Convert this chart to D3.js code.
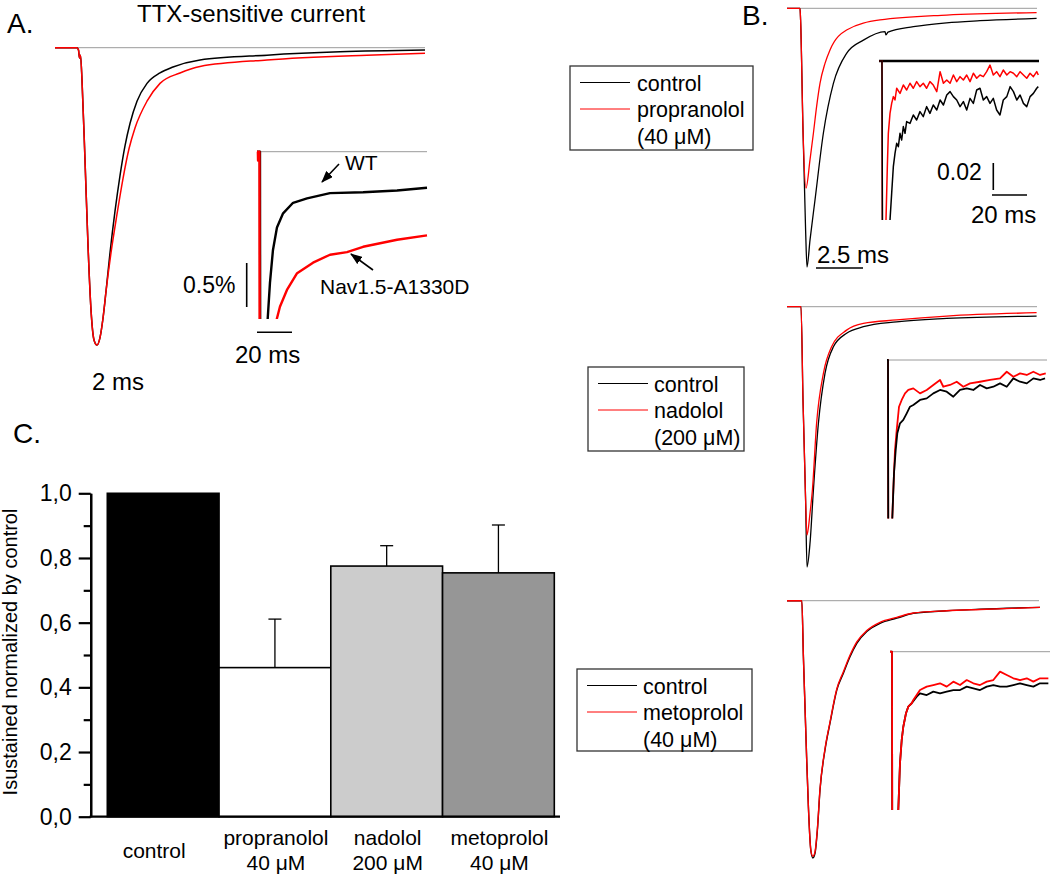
<!DOCTYPE html>
<html>
<head>
<meta charset="utf-8">
<script src="https://cdn.jsdelivr.net/npm/d3@7"></script>
<style>
  body { margin: 0; background: #fff; }
  svg { display: block; font-family: "Liberation Sans", Arial, Helvetica, sans-serif; }
</style>
</head>
<body>
<svg id="fig" width="1050" height="876"></svg>
<script>
// ---------- Panel A: TTX-sensitive current (t in ms, I in % of peak) ----------
const aWT = [[0,0],[2.2,0],[2.35,-0.8],[2.45,-3.5],[2.55,-2.5],[2.7,-10.9],[3.0,-37.8],[3.3,-66.4],
  [3.6,-88.2],[3.9,-98.3],[4.2,-100],[4.5,-97.5],[4.8,-91],[5.1,-82],[5.5,-69],[6.0,-55],[6.5,-43],
  [7.0,-33],[7.5,-25.5],[8.2,-18],[9.2,-12],[10.5,-8.5],[11.8,-6.5],[14.5,-4.1],[21.2,-2.5],
  [28.5,-1.4],[37,-0.8]];
const aA1330D = [[0,0],[2.2,0],[2.35,-0.8],[2.45,-3.5],[2.55,-2.5],[2.7,-10.9],[3.0,-37.8],[3.3,-66.4],
  [3.6,-88.2],[3.9,-98.3],[4.2,-100],[4.5,-97.5],[4.8,-91],[5.1,-82],[5.6,-69],[6.2,-56],[6.8,-44],
  [7.4,-34],[8.0,-27],[9.2,-18],[10.5,-12],[12.5,-8.5],[14.5,-6.3],[21.2,-4.1],[31.2,-2.5],[37,-1.9]];
// inset, late current
const aInsetWT = [[0,0],[1.7,0],[2.0,-6],[5.7,-6],[6.1,-1.90],[7.4,-1.49],[9.1,-1.12],[11.4,-0.86],
  [14.9,-0.70],[20.6,-0.58],[28.6,-0.53],[41.7,-0.47],[60.6,-0.46],[80,-0.44],[97.1,-0.41]];
const aInsetA1330D = [[0,0],[0.5,0],[0.6,-0.1],[0.8,-0.05],[1.4,0],[1.7,-6],[10.9,-6],[11.3,-1.90],
  [13.1,-1.76],[17.1,-1.57],[22.9,-1.38],[32,-1.26],[41.7,-1.17],[51.4,-1.14],[60.6,-1.08],
  [70.3,-1.04],[80,-1.0],[97.1,-0.95]];

// ---------- Panel B: control vs drug (t in ms, I in % of control peak) ----------
const bPropCtrl = [[0,0],[0.65,0],[0.68,-4.5],[0.8,-47],[0.93,-85.7],[1.0,-100],[1.15,-89.6],[1.4,-74.1],
  [1.82,-48.2],[2.32,-29.0],[2.98,-17.4],[3.82,-12.3],[4.9,-9.0],[4.95,-10.3],[5.05,-9.2],[6.32,-7.1],
  [7.98,-5.6],[9.65,-4.8],[12.48,-3.9]];
const bProp = [[0,0],[0.65,0],[0.68,-4.5],[0.8,-47],[0.95,-69.5],[1.15,-58.6],[1.32,-48.3],[1.48,-38],
  [1.65,-29],[1.9,-21.3],[2.15,-16.1],[2.98,-8.4],[4.65,-4.5],[7.98,-2.6],[12.48,-1.7]];
const bPropInsetCtrl = [[0,0],[1.7,0],[2.0,-15],[6.0,-15],[6.29,-11.78],[7.24,-9.8],[8.19,-7.83],
  [9.14,-6.84],[10.1,-6.10],[11.05,-6.35],[12.0,-5.36],[12.95,-5.85],[13.9,-4.86],[14.86,-5.36],
  [15.8,-4.49],[17.7,-4.62],[19.6,-4.0],[21.5,-4.37],[23.4,-3.75],[25.3,-4.12],[27.2,-3.38],
  [29.1,-3.88],[31.0,-3.26],[33.0,-3.63],[34.9,-2.89],[36.8,-3.26],[38.7,-2.52],[40.6,-2.27],
  [42.5,-2.64],[44.4,-2.89],[46.3,-3.38],[48.2,-3.01],[50.1,-3.63],[52.0,-2.77],[53.9,-3.14],
  [55.8,-2.15],[57.7,-2.02],[59.6,-2.89],[61.5,-2.64],[63.4,-3.14],[65.3,-2.77],[67.2,-3.63],
  [69.1,-4.0],[71.0,-2.89],[73.0,-2.64],[74.9,-1.90],[76.8,-2.27],[78.7,-2.89],[80.6,-2.52],
  [82.5,-3.14],[84.4,-3.38],[86.3,-2.64],[88.2,-2.40],[90.1,-2.02],[91.0,-1.90]];
const bPropInset = [[0,0],[1.7,0],[2.0,-15],[3.7,-15],[4.0,-11.78],[4.76,-7.83],[5.33,-5.36],
  [6.29,-3.88],[7.24,-3.14],[8.19,-2.64],[9.14,-2.89],[10.1,-2.02],[12.0,-2.4],[13.9,-1.78],
  [15.8,-2.15],[17.7,-1.65],[19.6,-2.02],[21.5,-1.53],[23.4,-1.90],[25.3,-1.65],[27.2,-2.02],
  [29.1,-1.53],[31.0,-1.78],[33.0,-2.27],[34.9,-0.79],[36.8,-1.65],[38.7,-1.41],[40.6,-1.65],
  [42.5,-1.04],[44.4,-1.53],[46.3,-1.16],[48.2,-1.41],[50.1,-1.04],[52.0,-1.53],[53.9,-0.91],
  [55.8,-1.28],[57.7,-1.04],[59.6,-1.16],[61.5,-0.79],[63.4,-0.30],[65.3,-1.04],[67.2,-0.79],
  [69.1,-1.16],[71.0,-0.67],[73.0,-1.04],[74.9,-0.79],[76.8,-0.91],[78.7,-1.16],[80.6,-0.79],
  [82.5,-1.04],[84.4,-1.28],[86.3,-0.91],[88.2,-1.16],[90.1,-0.79],[91.0,-1.04]];

const bNadCtrl = [[0,0],[0.7,0],[0.8,-35.8],[0.93,-74.3],[1.0,-100],[1.15,-90.9],[1.32,-70.4],
  [1.57,-44.8],[1.9,-25.6],[2.32,-15.4],[2.98,-10.2],[3.82,-7.7],[5.48,-5.8],[7.98,-4.5],[12.48,-3.6]];
const bNad = [[0,0],[0.7,0],[0.8,-35.8],[0.93,-74.3],[1.0,-87.7],[1.15,-79.4],[1.27,-70.4],
  [1.48,-44.8],[1.82,-25.6],[2.23,-15.4],[2.98,-9.0],[3.82,-6.4],[5.48,-5.1],[7.98,-3.6],[12.48,-2.3]];
const bNadInsetCtrl = [[0,0],[0.57,0],[0.75,-15],[2.9,-15],[3.03,-11.73],[4.0,-8.39],[4.97,-6.67],
  [5.89,-5.43],[7.43,-4.69],[9.31,-4.44],[11.26,-3.95],[13.14,-3.46],[15.03,-3.33],[18.86,-2.96],
  [22.69,-2.84],[26.46,-2.47],[30.29,-2.22],[34.11,-2.35],[37.89,-2.72],[41.71,-2.22],[45.54,-2.10],
  [49.31,-2.22],[53.14,-1.85],[56.97,-2.10],[60.74,-1.98],[64.57,-1.73],[68.4,-1.98],[72.17,-1.36],
  [76.0,-1.61],[79.83,-1.73],[83.6,-1.36],[87.43,-1.48],[90.29,-1.36]];
const bNadInset = [[0,0],[0.57,0],[0.75,-15],[2.9,-15],[3.0,-11.73],[3.6,-9.63],[4.57,-6.67],
  [5.54,-5.19],[6.86,-3.46],[8.4,-2.96],[10.29,-2.47],[12.17,-2.22],[15.03,-2.10],[18.86,-2.47],
  [22.69,-2.22],[26.46,-1.85],[30.29,-1.48],[32.17,-1.98],[36.0,-1.85],[39.83,-1.61],[43.6,-1.98],
  [47.43,-1.73],[53.14,-1.61],[58.86,-1.48],[64.57,-1.36],[68.4,-0.87],[72.17,-1.24],[76.0,-0.99],
  [79.83,-1.11],[83.6,-0.87],[87.43,-1.11],[90.69,-0.99]];

const bMetCtrl = [[0,0],[0.74,0],[0.82,-21.8],[0.9,-41.2],[0.98,-60.6],[1.07,-80.1],[1.19,-96.9],
  [1.29,-100],[1.4,-98.2],[1.52,-89.1],[1.65,-73.6],[1.9,-58.0],[2.15,-47.6],[2.49,-34.7],[2.82,-28.2],
  [3.15,-21.8],[3.49,-16.6],[3.99,-12.0],[4.65,-8.8],[5.49,-6.8],[6.32,-4.9],[7.99,-3.9],[9.65,-3.3],
  [12.65,-2.6]];
const bMet = [[0,0],[0.74,0],[0.82,-21.8],[0.9,-41.2],[0.98,-60.6],[1.07,-80.1],[1.19,-96.9],
  [1.29,-99.3],[1.4,-97.6],[1.52,-88.6],[1.65,-73.2],[1.9,-57.6],[2.15,-47.2],[2.49,-34.3],[2.82,-27.6],
  [3.15,-21.2],[3.49,-16.0],[3.99,-11.6],[4.65,-8.4],[5.49,-6.5],[6.32,-4.8],[7.99,-3.9],[9.65,-3.4],
  [12.65,-2.6]];
const bMetInsetCtrl = [[0,0],[1.14,0],[1.3,-15],[4.6,-15],[4.74,-11.73],[5.71,-8.27],[6.69,-6.54],
  [7.6,-5.56],[9.14,-4.56],[10.46,-4.07],[12.4,-3.82],[15.26,-3.33],[17.14,-3.08],[20.97,-3.21],
  [24.74,-2.96],[28.57,-3.08],[32.4,-2.96],[36.17,-2.84],[40.0,-2.84],[43.83,-2.59],[47.6,-2.71],
  [51.43,-2.84],[55.26,-2.59],[59.03,-2.47],[62.86,-2.59],[66.69,-2.59],[70.46,-2.47],[74.29,-2.34],
  [78.11,-2.47],[81.89,-2.59],[85.71,-2.34],[90.46,-2.34]];
const bMetInset = [[0,0],[1.14,0],[1.3,-15],[4.6,-15],[4.74,-11.73],[5.71,-8.27],[6.69,-6.54],
  [7.6,-5.56],[9.14,-4.56],[10.46,-4.07],[12.4,-3.82],[13.31,-3.58],[17.14,-2.84],[20.97,-2.59],
  [24.74,-2.47],[28.57,-2.34],[32.4,-2.59],[36.17,-2.22],[40.0,-2.47],[43.83,-2.10],[47.6,-2.34],
  [51.43,-2.47],[55.26,-2.22],[59.03,-2.10],[62.86,-1.48],[66.69,-1.73],[70.46,-1.97],[74.29,-2.10],
  [78.11,-1.97],[81.89,-2.22],[85.71,-1.97],[90.46,-1.97]];

// ---------- Panel C: Isustained normalized by control ----------
const barNames = ['control', 'propranolol', 'nadolol', 'metoprolol'];
const barDoses = ['', '40 \u03bcM', '200 \u03bcM', '40 \u03bcM'];
const barValues = [1.0, 0.461, 0.775, 0.754];
const barErrors = [0, 0.150, 0.063, 0.148];
const majorTicks = [0, 0.2, 0.4, 0.6, 0.8, 1.0];
const minorTicks = [0.1, 0.3, 0.5, 0.7, 0.9];

const legendDrugs = [['propranolol', '(40 \u03bcM)'], ['nadolol', '(200 \u03bcM)'], ['metoprolol', '(40 \u03bcM)']];

// ---------------------------------------------------------------------------
const RED = '#ff0000';
const svg = d3.select('#fig');
svg.append('rect').attr('width', 1050).attr('height', 876).attr('fill', '#fff');
const defs = svg.append('defs');
defs.append('marker').attr('id', 'arrow')
  .attr('viewBox', '0 0 12 9').attr('refX', 11).attr('refY', 4.5)
  .attr('markerWidth', 12).attr('markerHeight', 9)
  .attr('markerUnits', 'userSpaceOnUse').attr('orient', 'auto')
  .append('path').attr('d', 'M0,0L12,4.5L0,9z').attr('fill', '#000');

let clipCount = 0;

// draws a set of current traces with their zero line
function tracePanel(p) {
  const x = d3.scaleLinear().domain(p.xDomain).range(p.xRange);
  const y = d3.scaleLinear().domain(p.yDomain).range(p.yRange);
  const g = svg.append('g');

  g.append('line')
    .attr('x1', p.xRange[0]).attr('x2', p.xRange[1])
    .attr('y1', y(0)).attr('y2', y(0))
    .attr('stroke', p.baseColor || '#9a9a9a')
    .attr('stroke-width', p.baseWidth || 1);

  let tg = g;
  if (p.clip) {
    const id = 'clip' + (clipCount++);
    defs.append('clipPath').attr('id', id).append('rect')
      .attr('x', p.xRange[0] - 5).attr('y', p.yRange[0] - 12)
      .attr('width', p.xRange[1] - p.xRange[0] + 10)
      .attr('height', p.yRange[1] - p.yRange[0] + 12);
    tg = g.append('g').attr('clip-path', `url(#${id})`);
  }

  const line = d3.line().x(d => x(d[0])).y(d => y(d[1])).curve(p.curve || d3.curveLinear);
  p.series.forEach(s => {
    tg.append('path').attr('d', line(s.data))
      .attr('fill', 'none').attr('stroke', s.color)
      .attr('stroke-width', p.width).attr('stroke-linejoin', 'round');
  });
}

function text(str, x, y, size, anchor) {
  return svg.append('text').attr('x', x).attr('y', y)
    .attr('font-size', size).attr('text-anchor', anchor || 'start')
    .attr('fill', '#000').text(str);
}

function bar(x1, y1, x2, y2, w) {
  svg.append('line').attr('x1', x1).attr('y1', y1).attr('x2', x2).attr('y2', y2)
    .attr('stroke', '#000').attr('stroke-width', w || 1.6);
}

// ---- Panel A
text('A.', 7, 33, 28);
text('TTX-sensitive current', 137, 22, 24);
tracePanel({ xDomain: [0, 37], xRange: [55, 425], yDomain: [0, -100], yRange: [47.7, 345],
  width: 1.5, curve: d3.curveMonotoneX,
  series: [{ data: aWT, color: '#000' }, { data: aA1330D, color: RED }] });
text('2 ms', 92, 390, 24);

tracePanel({ xDomain: [0, 97.1], xRange: [257, 427], yDomain: [0, -1.9], yRange: [151.7, 319],
  width: 2.4, clip: true,
  series: [{ data: aInsetWT, color: '#000' }, { data: aInsetA1330D, color: RED }] });
text('WT', 345, 170, 21);
svg.append('line').attr('x1', 339).attr('y1', 164).attr('x2', 322).attr('y2', 182)
  .attr('stroke', '#000').attr('stroke-width', 1.6).attr('marker-end', 'url(#arrow)');
text('Nav1.5-A1330D', 320, 294, 21);
svg.append('line').attr('x1', 373).attr('y1', 270).attr('x2', 351).attr('y2', 254)
  .attr('stroke', '#000').attr('stroke-width', 1.6).attr('marker-end', 'url(#arrow)');
bar(246.7, 263, 246.7, 307);
text('0.5%', 183, 293, 23);
bar(257, 332.3, 292, 332.3);
text('20 ms', 235, 363, 24);

// ---- Panel B
text('B.', 742, 25, 28);
// propranolol
tracePanel({ xDomain: [0, 12.5], xRange: [787, 1037], yDomain: [0, -100], yRange: [8.3, 267],
  width: 1.3, curve: d3.curveMonotoneX,
  series: [{ data: bPropCtrl, color: '#000' }, { data: bProp, color: RED }] });
tracePanel({ xDomain: [0, 91.4], xRange: [879, 1039], yDomain: [0, -11.78], yRange: [61, 220],
  width: 1.5, clip: true, baseColor: '#000', baseWidth: 2.6,
  series: [{ data: bPropInset, color: RED }, { data: bPropInsetCtrl, color: '#000' }] });
bar(993.3, 163, 993.3, 190);
text('0.02', 937, 180, 23);
bar(992, 195, 1027, 195);
text('20 ms', 971, 223, 24);
text('2.5 ms', 817, 263, 24);
bar(816, 268, 863, 268);

// nadolol
tracePanel({ xDomain: [0, 12.5], xRange: [787, 1037], yDomain: [0, -100], yRange: [306.7, 567],
  width: 1.3, curve: d3.curveMonotoneX,
  series: [{ data: bNadCtrl, color: '#000' }, { data: bNad, color: RED }] });
tracePanel({ xDomain: [0, 91.4], xRange: [887, 1047], yDomain: [0, -11.73], yRange: [360, 518.4],
  width: 1.8, clip: true,
  series: [{ data: bNadInset, color: RED }, { data: bNadInsetCtrl, color: '#000' }] });

// metoprolol
tracePanel({ xDomain: [0, 12.6], xRange: [787, 1039], yDomain: [0, -100], yRange: [600.7, 858],
  width: 1.4, curve: d3.curveMonotoneX,
  series: [{ data: bMetCtrl, color: '#000' }, { data: bMet, color: RED }] });
tracePanel({ xDomain: [0, 91.4], xRange: [890, 1050], yDomain: [0, -11.73], yRange: [651.7, 810],
  width: 1.8, clip: true,
  series: [{ data: bMetInsetCtrl, color: '#000' }, { data: bMetInset, color: RED }] });

// legends
const legendBoxes = [
  { x: 570, y: 66, w: 183, h: 84 },
  { x: 588, y: 367, w: 156, h: 84 },
  { x: 577, y: 669, w: 175, h: 82 }
];
legendBoxes.forEach((b, i) => {
  const g = svg.append('g').attr('transform', `translate(${b.x},${b.y})`);
  g.append('rect').attr('width', b.w).attr('height', b.h)
    .attr('fill', '#fff').attr('stroke', '#333').attr('stroke-width', 1.3);
  const lx = 10, tx = 66;
  g.append('line').attr('x1', lx).attr('x2', lx + 50).attr('y1', 16.5).attr('y2', 16.5)
    .attr('stroke', '#000').attr('stroke-width', 1);
  g.append('line').attr('x1', lx).attr('x2', lx + 50).attr('y1', 43).attr('y2', 43)
    .attr('stroke', RED).attr('stroke-width', 1);
  const rows = ['control', legendDrugs[i][0], legendDrugs[i][1]];
  rows.forEach((r, k) => {
    g.append('text').attr('x', tx + (i === 0 ? 1 : 0)).attr('y', 24.5 + k * 26.5)
      .attr('font-size', 21.5).text(r);
  });
});

// ---- Panel C
text('C.', 13, 443, 28);
const yC = d3.scaleLinear().domain([0, 1]).range([816.7, 493.3]);
const xC = d3.scaleBand().domain(barNames).range([107.3, 554.3]).padding(0);
const barFills = ['#000', '#fff', '#cccccc', '#969696'];

const bars = svg.append('g');
barNames.forEach((n, i) => {
  bars.append('rect')
    .attr('x', xC(n)).attr('width', xC.bandwidth())
    .attr('y', yC(barValues[i])).attr('height', yC(0) - yC(barValues[i]))
    .attr('fill', barFills[i]).attr('stroke', '#000').attr('stroke-width', 1.6);
  if (barErrors[i] > 0) {
    const cx = xC(n) + xC.bandwidth() / 2;
    const top = yC(barValues[i] + barErrors[i]);
    bars.append('line').attr('x1', cx).attr('x2', cx)
      .attr('y1', yC(barValues[i])).attr('y2', top)
      .attr('stroke', '#000').attr('stroke-width', 1.3);
    bars.append('line').attr('x1', cx - 6.5).attr('x2', cx + 6.5)
      .attr('y1', top).attr('y2', top)
      .attr('stroke', '#000').attr('stroke-width', 1.3);
  }
});

const fmt = d => d.toFixed(1).replace('.', ',');
const gMinor = svg.append('g').attr('transform', 'translate(90.7,0)')
  .call(d3.axisLeft(yC).tickValues(minorTicks).tickSize(7).tickSizeOuter(0).tickFormat(''));
const gMajor = svg.append('g').attr('transform', 'translate(90.7,0)')
  .call(d3.axisLeft(yC).tickValues(majorTicks).tickSize(12).tickSizeOuter(0).tickFormat(fmt).tickPadding(7));
[gMinor, gMajor].forEach(g => {
  g.selectAll('path.domain').attr('stroke', '#000').attr('stroke-width', 2.2);
  g.selectAll('.tick line').attr('stroke', '#000').attr('stroke-width', 2.2);
  g.selectAll('.tick text').attr('font-size', 23).attr('fill', '#000')
    .attr('font-family', '"Liberation Sans", Arial, sans-serif');
});
bar(89.6, yC(0), 560, yC(0), 2.2);

svg.append('text')
  .attr('transform', 'translate(17,652) rotate(-90)')
  .attr('text-anchor', 'middle').attr('font-size', 20)
  .text('Isustained normalized by control');

barNames.forEach((n, i) => {
  const cx = xC(n) + xC.bandwidth() / 2;
  if (barDoses[i]) {
    text(n, cx + 1, 845, 21, 'middle');
    text(barDoses[i], cx + 1, 870, 21, 'middle');
  } else {
    text(n, cx - 9, 858, 21, 'middle');
  }
});
</script>
</body>
</html>
